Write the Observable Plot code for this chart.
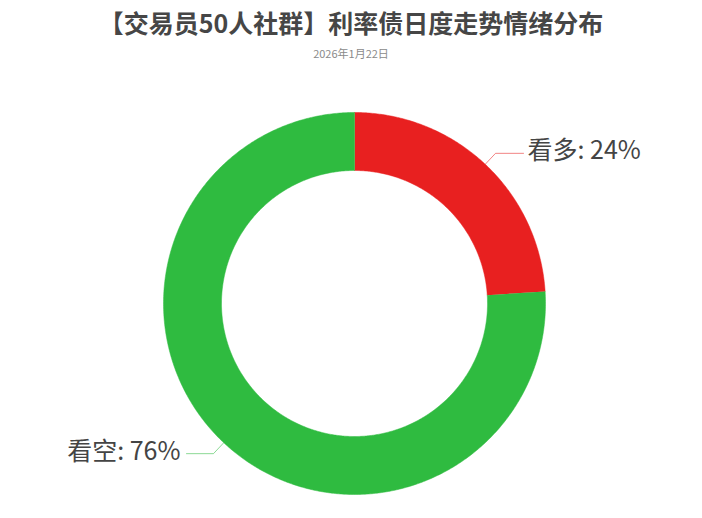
<!DOCTYPE html>
<html>
<head>
<meta charset="utf-8">
<script src="https://cdn.jsdelivr.net/npm/d3@7"></script>
<script src="https://cdn.jsdelivr.net/npm/@observablehq/plot@0.6"></script>
<style>
  html, body { margin: 0; padding: 0; background: #fff; }
  body { width: 702px; height: 518px; overflow: hidden; font-family: "Noto Sans CJK SC", "Noto Sans", sans-serif; }
  #title { height: 46px; line-height: 44px; text-align: center; font-size: 25px; font-weight: bold; color: #464646; }
  #subtitle { height: 14px; line-height: 14px; text-align: center; font-size: 11px; color: #8a8a8a; }
  #chart svg { display: block; }
</style>
</head>
<body>
<div id="title">【交易员50人社群】利率债日度走势情绪分布</div>
<div id="subtitle">2026年1月22日</div>
<div id="chart"></div>
<script>
const categories = ["看多", "看空"];
const values = [24, 76];
const colors = ["#e82020", "#2fbb40"];

const W = 702, H = 458;
const cx = 354, cy = 243;          // pixel centre inside the svg
const R = 191, r = 133;            // outer / inner radius (px)

const total = d3.sum(values);
const slices = [];
let acc = 0;
categories.forEach((c, i) => {
  const a0 = acc / total * 2 * Math.PI;
  acc += values[i];
  const a1 = acc / total * 2 * Math.PI;
  slices.push({cat: c, value: values[i], color: colors[i], a0, a1, pct: Math.round(values[i] / total * 100)});
});

// ring polygons
const ringRows = [];
slices.forEach(s => {
  const n = Math.max(4, Math.ceil((s.a1 - s.a0) / (Math.PI / 360)));
  for (let k = 0; k <= n; k++) {
    const a = s.a0 + (s.a1 - s.a0) * k / n;
    ringRows.push({cat: s.cat, x: R * Math.sin(a), y: R * Math.cos(a)});
  }
  for (let k = n; k >= 0; k--) {
    const a = s.a0 + (s.a1 - s.a0) * k / n;
    ringRows.push({cat: s.cat, x: r * Math.sin(a), y: r * Math.cos(a)});
  }
});

// label guide lines and label anchors
const guideRows = [];
const labelRows = [];
slices.forEach(s => {
  const m = (s.a0 + s.a1) / 2;
  const sx = Math.sin(m), sy = Math.cos(m);
  const right = sx >= 0;
  const p0 = {x: R * sx, y: R * sy};
  const p1 = {x: (R + 15) * sx, y: (R + 15) * sy};
  const p2 = {x: p1.x + (right ? 28 : -27), y: p1.y};
  guideRows.push({cat: s.cat, ...p0}, {cat: s.cat, ...p1}, {cat: s.cat, ...p2});
  labelRows.push({cat: s.cat, x: p2.x, y: p2.y, right, text: `${s.cat}: ${s.pct}%`});
});

const marks = [];
slices.forEach(s => {
  marks.push(Plot.line(ringRows.filter(d => d.cat === s.cat), {
    x: "x", y: "y", fill: s.color, stroke: s.color, strokeWidth: 0.5, curve: "linear"
  }));
});
slices.forEach(s => {
  marks.push(Plot.line(guideRows.filter(d => d.cat === s.cat), {
    x: "x", y: "y", stroke: s.color, strokeOpacity: 0.55, strokeWidth: 1, curve: "linear"
  }));
});
marks.push(Plot.text(labelRows.filter(d => d.right), {
  x: "x", y: "y", text: "text", textAnchor: "start", dx: 4, dy: -2,
  fontSize: 25, fill: "#444"
}));
marks.push(Plot.text(labelRows.filter(d => !d.right), {
  x: "x", y: "y", text: "text", textAnchor: "end", dx: -6, dy: -2,
  fontSize: 25, fill: "#444"
}));

const chart = Plot.plot({
  width: W,
  height: H,
  margin: 0,
  style: {fontFamily: '"Noto Sans CJK SC", "Noto Sans", sans-serif', background: "#fff", overflow: "visible"},
  x: {domain: [-cx, W - cx], axis: null},
  y: {domain: [-(H - cy), cy], axis: null},
  marks
});
document.getElementById("chart").appendChild(chart);
</script>
</body>
</html>
